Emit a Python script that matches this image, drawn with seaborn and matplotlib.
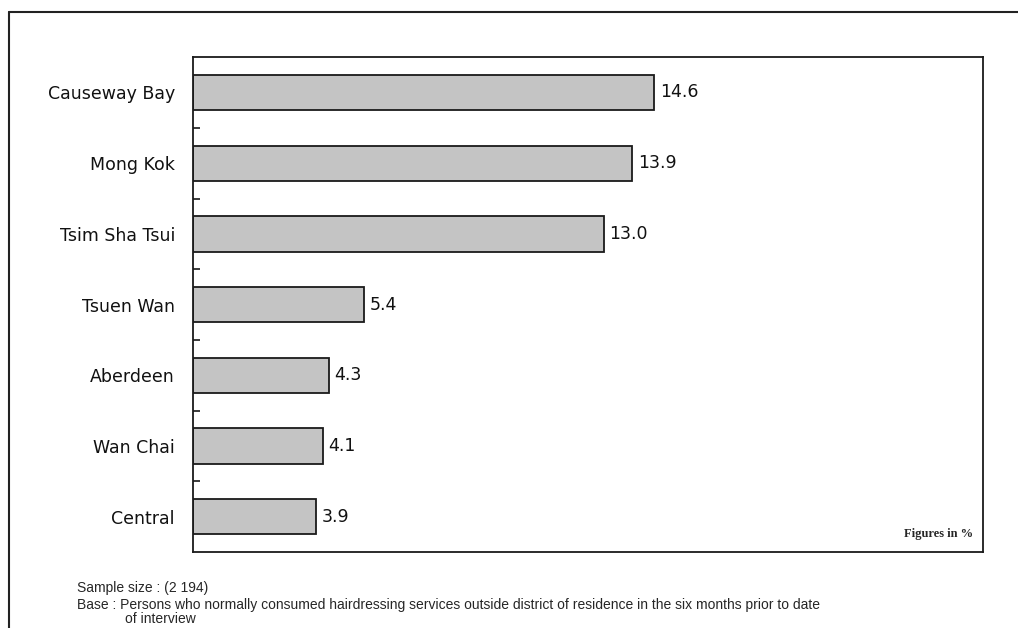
import matplotlib
matplotlib.use("Agg")
import matplotlib.pyplot as plt
import seaborn as sns
import pandas as pd
from matplotlib.lines import Line2D

# Chart values
districts = ["Causeway Bay", "Mong Kok", "Tsim Sha Tsui", "Tsuen Wan",
             "Aberdeen", "Wan Chai", "Central"]
shares = [14.6, 13.9, 13.0, 5.4, 4.3, 4.1, 3.9]

sample_note = "Sample size : (2 194)"
base_note = ("Base : Persons who normally consumed hairdressing services outside "
             "district of residence in the six months prior to date")
base_note_2 = "of interview"
unit_note = "Figures in %"

sns.set_theme(style="white")
plt.rcParams["font.family"] = ["DejaVu Sans"]

df = pd.DataFrame({"district": districts, "share": shares})

fig = plt.figure(figsize=(10.18, 6.28), dpi=100)
ax = fig.add_axes([0.1896, 0.121, 0.7760, 0.788])

sns.barplot(data=df, x="share", y="district", orient="h", ax=ax,
            color="#c4c4c4", saturation=1, width=0.5,
            edgecolor="#1a1a1a", linewidth=1.3)

ax.set_xlim(0, 25)
ax.set_ylim(6.5, -0.5)
ax.set_xlabel("")
ax.set_ylabel("")
ax.set_xticks([])

for spine in ax.spines.values():
    spine.set_visible(True)
    spine.set_color("#1a1a1a")
    spine.set_linewidth(1.3)

# category labels, small inward ticks between categories
ax.tick_params(axis="y", which="major", length=0, pad=13, labelsize=12.5,
               labelcolor="#111111")
ax.set_yticks([i + 0.5 for i in range(len(districts) - 1)], minor=True)
ax.tick_params(axis="y", which="minor", direction="in", length=5,
               width=1.2, color="#1a1a1a", left=True)

ax.bar_label(ax.containers[0], fmt="%.1f", padding=4, fontsize=12.5,
             color="#111111")

ax.text(0.988, 0.025, unit_note, transform=ax.transAxes, ha="right",
        va="bottom", fontsize=9, fontweight="bold",
        family=["Liberation Serif", "DejaVu Serif"])

# footnotes
footer_font = ["Liberation Sans Narrow", "Liberation Sans", "DejaVu Sans"]
fig.text(77 / 1018, 1 - 588 / 628, sample_note, ha="left", va="center",
         fontsize=10, family=footer_font)
fig.text(77 / 1018, 1 - 605 / 628, base_note, ha="left", va="center",
         fontsize=10, family=footer_font)
fig.text(125 / 1018, 1 - 619 / 628, base_note_2, ha="left", va="center",
         fontsize=10, family=footer_font)

# outer frame (only top and left edges visible)
fig.add_artist(Line2D([9 / 1018, 9 / 1018], [0, 1 - 12 / 628],
                      transform=fig.transFigure, color="#222222", lw=1.5))
fig.add_artist(Line2D([9 / 1018, 1], [1 - 12 / 628, 1 - 12 / 628],
                      transform=fig.transFigure, color="#222222", lw=1.5))

fig.savefig("out.png", dpi=100)
